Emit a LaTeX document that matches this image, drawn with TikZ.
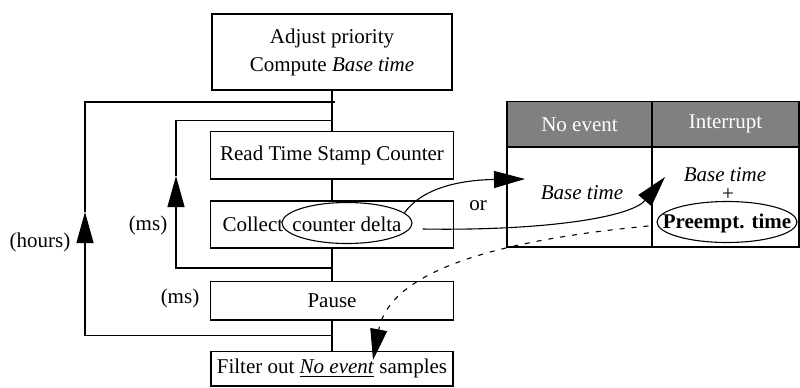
\documentclass[tikz,border=0pt]{standalone}
\usepackage{fontspec}
\setmainfont{Liberation Serif}
\usetikzlibrary{arrows.meta,shapes.geometric}
\definecolor{hdrgray}{RGB}{128,128,128}
\begin{document}
\begin{tikzpicture}[x=0.5pt,y=-0.5pt,
  font=\fontsize{10.5}{12.6}\selectfont,
  line width=0.55pt,
  box/.style={draw,rectangle,inner sep=0pt,minimum width=121.5pt},
  lbl/.style={inner sep=0pt},
  tip/.style={-{Triangle[length=15.5pt,width=8.5pt]}},
  hdr/.style={draw,fill=hdrgray,text=white,line width=0.7pt,inner sep=0pt,minimum height=22.65pt},
  cell/.style={draw,line width=0.7pt,inner sep=0pt,minimum height=50pt},
  oval/.style={draw,ellipse,inner sep=0pt}]
\useasboundingbox (0,0) rectangle (800,387);

% flow boxes
\node[box,minimum width=120pt,minimum height=38pt,align=center] (top) at (332,52) {Adjust priority\\[1.4pt]Compute \textit{Base time}};
\node[box,minimum height=23.65pt] (read) at (332,155.3) {Read Time Stamp Counter};
\node[box,minimum height=23.5pt] (coll) at (332,224.5) {};
\node[box,minimum height=19.15pt] (pause) at (332,300.8) {Pause};
\node[box,minimum height=17.15pt,minimum width=121pt] (filt) at (332,368.8) {Filter out \underline{\textit{No event}} samples};
\node[lbl,anchor=west] (collt) at (222,224) {Collect};
\node[oval,minimum width=65pt,minimum height=20.5pt] (cd) at (347,223) {};
\node[lbl] (cdt) at (347,224) {counter delta};

% trunk
\draw (top) -- (read);
\draw (read) -- (coll);
\draw (coll) -- (pause);
\draw (pause) -- (filt);

% loops
\coordinate (ot) at (335,102);
\coordinate (it) at (332,120.7);
\coordinate (ib) at (332,268);
\coordinate (ob) at (332,335.5);
\coordinate (ia) at (176,176);
\coordinate (oa) at (85,212);
\draw[tip] (ib) -| (ia);
\draw (ia) |- (it);
\draw[tip] (ob) -| (oa);
\draw (oa) |- (ot);

% labels
\node[lbl] (hrs) at (40,242) {(hours)};
\node[lbl] (ms1) at (148,225) {(ms)};
\node[lbl] (ms2) at (180,298) {(ms)};
\node[lbl] (or) at (478,206) {or};

% table
\node[hdr,minimum width=72.5pt] (h1) at (579.5,124.35) {No event};
\node[hdr,minimum width=73.5pt] (h2) at (725.5,124.35) {Interrupt};
\node[cell,minimum width=72.5pt] (c1) at (579.5,197) {};
\node[cell,minimum width=73.5pt] (c2) at (725.5,197) {};
\node[lbl] (bt1) at (582,193) {\textit{Base time}};
\node[lbl] (bt2) at (725,175) {\textit{Base time}};
\node[lbl] (plus) at (728,195) {+};
\node[oval,minimum width=70pt,minimum height=20.5pt] (pe) at (727,222) {};
\node[lbl] (pet) at (727,223) {\textbf{Preempt. time}};

% connectors
\coordinate (ea) at (525,179);
\coordinate (eb) at (665,177);
\coordinate (ed) at (373,360);
\draw[tip] (cd.10) .. controls (422,188) and (460,180) .. (ea);
\draw[tip] ([xshift=5pt,yshift=-3pt]cd.east) .. controls (540,231) and (630,218) .. (eb);
\draw[tip,dash pattern=on 2.5pt off 3.5pt] ([xshift=-4pt,yshift=-2pt]pe.west) .. controls (500,240) and (390,270) .. (ed);
\end{tikzpicture}
\end{document}
